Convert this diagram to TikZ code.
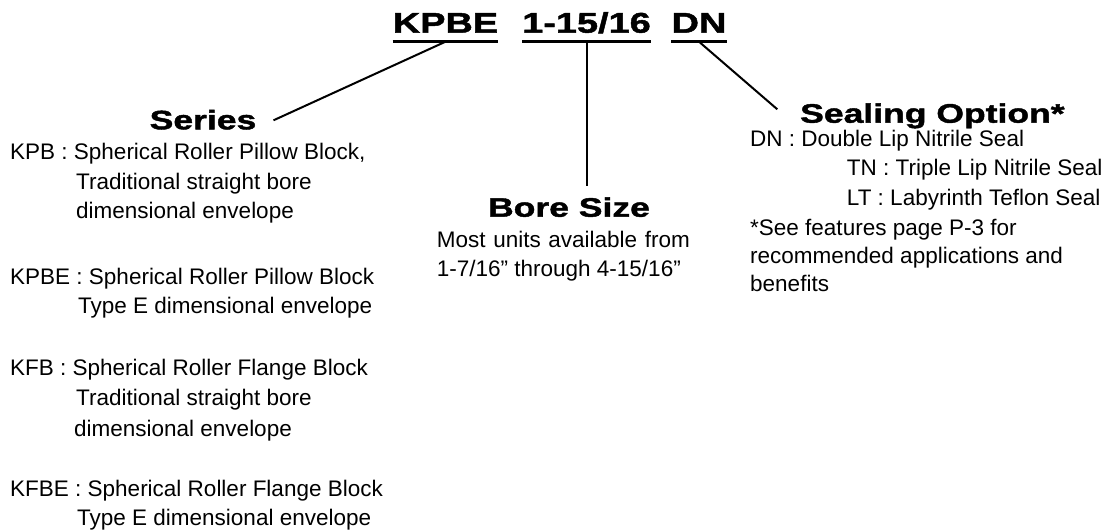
\documentclass[tikz,border=0pt]{standalone}
\usepackage{fontspec}
\setmainfont{Liberation Sans}
\newfontfamily\headfont[FakeStretch=1.33, BoldFeatures={FakeBold=1.6}]{Liberation Sans}
\usepackage{tikz}
\usetikzlibrary{calc}

\begin{document}
\begin{tikzpicture}[x=1pt, y=-1pt,
  code/.style={inner sep=0pt, anchor=base, font=\headfont\bfseries\fontsize{28.5}{30}\selectfont},
  head/.style={inner sep=0pt, font=\headfont\bfseries\fontsize{26.7}{30}\selectfont},
  body/.style={inner sep=0pt, anchor=base west, font=\fontsize{22.5}{29.5}\selectfont},
  lead/.style={line width=2pt},
  uline/.style={line width=2.5pt}]
  \useasboundingbox[fill=white] (0,0) rectangle (1110,531);

  % Part number
  \node[code] (kpbe) at (445.5,32.7) {KPBE};
  \node[code] (size) at (586.5,32.7) {1-15/16};
  \node[code] (dn) at (699,32.7) {DN};
  \foreach \n in {kpbe,size,dn} {
    \draw[uline] ($(\n.base west)+(0,9)$) -- ($(\n.base east)+(0,9)$);
    \coordinate (\n-u) at ($(\n.base)+(0,9)$);
  }

  % Headings
  \node[head, anchor=base] (series) at (203,129.3) {Series};
  \node[head, anchor=base] (bore) at (569,216.7) {Bore Size};
  \node[head, anchor=base west] (seal) at (800,122.7) {Sealing Option*};

  % Leaders
  \coordinate (series-end) at ($(series.base east)+(17,-9)$);
  \coordinate (bore-end) at ($(size-u |- bore.north)+(0,-11)$);
  \coordinate (seal-end) at ($(seal.base west)+(-22.7,-13.4)$);
  \draw[lead] (kpbe-u) -- (series-end);
  \draw[lead] (size-u) -- (bore-end);
  \draw[lead] (dn-u) -- (seal-end);

  % Series list
  \foreach \i/\x/\y/\t in {
    1/10/159/{KPB : Spherical Roller Pillow Block,},
    2/76/189/{Traditional straight bore},
    3/76/218/{dimensional envelope},
    4/10/284/{KPBE : Spherical Roller Pillow Block},
    5/78/313/{Type E dimensional envelope},
    6/10/375/{KFB : Spherical Roller Flange Block},
    7/76/405/{Traditional straight bore},
    8/74/436/{dimensional envelope},
    9/10/496/{KFBE : Spherical Roller Flange Block},
    10/77/525/{Type E dimensional envelope}} {
    \node[body] (ser-\i) at (\x,\y) {\t};
  }

  % Bore size text
  \node[body] (bore-1) at (436.7,247) {\makebox[253pt][s]{Most units available from}};
  \node[body] (bore-2) at (436.7,276.5) {1-7/16” through 4-15/16”};

  % Sealing list
  \foreach \i/\x/\y/\t in {
    1/750/146.7/{DN : Double Lip Nitrile Seal},
    2/846.7/175/{TN : Triple Lip Nitrile Seal},
    3/846.7/205/{LT : Labyrinth Teflon Seal},
    4/750/235/{*See features page P-3 for},
    5/750/263.3/{recommended applications and},
    6/750/291.7/{benefits}} {
    \node[body] (seal-\i) at (\x,\y) {\t};
  }
\end{tikzpicture}
\end{document}
